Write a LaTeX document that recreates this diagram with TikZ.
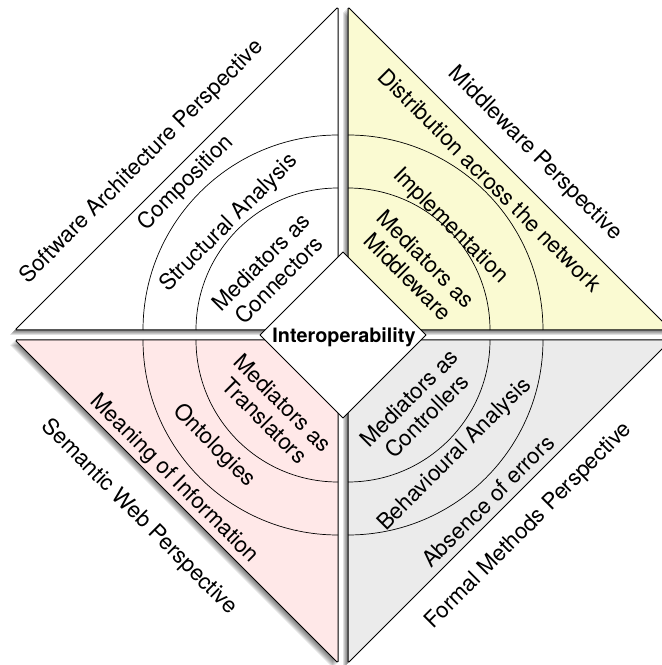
\documentclass[tikz,border=0pt]{standalone}
\usepackage{fontspec}
\setmainfont{TeX Gyre Heros}
\begin{document}
\begin{tikzpicture}[x=1pt,y=1pt,
  tri/.style={draw=black, line width=1pt, rounded corners=1.5pt, line join=round},
  ring/.style={draw=black, line width=0.7pt},
  lbl/.style={font=\fontsize{22.3}{25}\selectfont, align=center, inner sep=0pt},
  center label/.style={font=\bfseries\fontsize{19.8}{22}\selectfont, inner sep=0pt},
  shadowfill/.style={fill=black, opacity=0.12},
]
\definecolor{qyellow}{RGB}{250,250,210}
\definecolor{qpink}{RGB}{255,232,232}
\definecolor{qgrey}{RGB}{235,235,235}
\useasboundingbox (0,0) rectangle (662,665);
\fill[white] (0,0) rectangle (662,665);

% shadows
\foreach \k in {1,...,5}{
  \fill[shadowfill, shift={(-\k,-\k)}] (338,335) -- (15,335) -- (338,658) -- cycle;
  \fill[shadowfill, shift={(-\k,-\k)}] (348,335) -- (348,658) -- (671,335) -- cycle;
  \fill[shadowfill, shift={(-\k,-\k)}] (338,325) -- (15,325) -- (338,2) -- cycle;
  \fill[shadowfill, shift={(-\k,-\k)}] (348,325) -- (671,325) -- (348,2) -- cycle;
}

% quadrants
\path[tri, fill=white]   (338,335) -- (15,335) -- (338,658) -- cycle;
\path[tri, fill=qyellow] (348,335) -- (348,658) -- (671,335) -- cycle;
\path[tri, fill=qpink]   (338,325) -- (15,325) -- (338,2) -- cycle;
\path[tri, fill=qgrey]   (348,325) -- (671,325) -- (348,2) -- cycle;

% rings
\draw[ring] (338,477) arc[start angle=90, end angle=180, radius=142];
\draw[ring] (338,530) arc[start angle=90, end angle=180, radius=195];
\draw[ring] (490,335) arc[start angle=0, end angle=90, radius=142];
\draw[ring] (543,335) arc[start angle=0, end angle=90, radius=195];
\draw[ring] (196,325) arc[start angle=180, end angle=270, radius=142];
\draw[ring] (143,325) arc[start angle=180, end angle=270, radius=195];
\draw[ring] (348,183) arc[start angle=270, end angle=360, radius=142];
\draw[ring] (348,130) arc[start angle=270, end angle=360, radius=195];

% centre diamond
\draw[fill=white, line width=1pt, line join=round] (260,330) -- (343,413) -- (426,330) -- (343,247) -- cycle;
\node[center label] (interop) at (344,328) {Interoperability};

% software architecture
\node[lbl, rotate=45] (sap) at (142,503) {Software Architecture Perspective};
\node[lbl, rotate=45] (comp) at (186,482) {Composition};
\node[lbl, rotate=45] (struct) at (229,442) {Structural Analysis};
\node[lbl, rotate=45] (conn) at (270,394) {Mediators as\\Connectors};

% middleware
\node[lbl, rotate=-45] (mwp) at (535,511) {Middleware Perspective};
\node[lbl, rotate=-45] (dist) at (490,485) {Distribution across the network};
\node[lbl, rotate=-45] (impl) at (450,439) {Implementation};
\node[lbl, rotate=-45] (mw) at (417,397) {Mediators as\\Middleware};

% semantic web
\node[lbl, rotate=-45] (swp) at (139,148) {Semantic Web Perspective};
\node[lbl, rotate=-45] (mean) at (174,186) {Meaning of Information};
\node[lbl, rotate=-45] (onto) at (214,219) {Ontologies};
\node[lbl, rotate=-45] (trans) at (274,253) {Mediators as\\Translators};

% formal methods
\node[lbl, rotate=45] (fmp) at (529,139) {Formal Methods Perspective};
\node[lbl, rotate=45] (abs) at (488,164) {Absence of errors};
\node[lbl, rotate=45] (beh) at (455,210) {Behavioural Analysis};
\node[lbl, rotate=45] (ctrl) at (418,258) {Mediators as\\Controllers};
\end{tikzpicture}
\end{document}
